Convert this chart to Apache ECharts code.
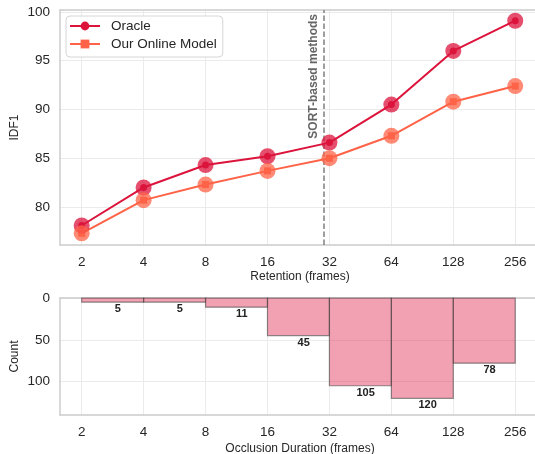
<!DOCTYPE html>
<html>
<head>
<meta charset="utf-8">
<script src="https://cdn.jsdelivr.net/npm/echarts@6/dist/echarts.min.js"></script>
<style>
html,body{margin:0;padding:0;background:#fff;}
#chart{width:535px;height:454px;}
</style>
</head>
<body>
<div id="chart"></div>
<script>
// ---- data ----
const retention = [2, 4, 8, 16, 32, 64, 128, 256];
const oracleIDF1 = [78.1, 82.0, 84.3, 85.2, 86.6, 90.5, 96.0, 99.1];
const onlineIDF1 = [77.3, 80.7, 82.3, 83.7, 85.0, 87.3, 90.8, 92.4];
const binEdges = [2, 4, 8, 16, 32, 64, 128, 256];
const occlusionCounts = [5, 5, 11, 45, 105, 120, 78];
const xTickValues = [2, 4, 8, 16, 32, 64, 128, 256];
const yTicksTop = [80, 85, 90, 95, 100];
const yTicksBottom = [0, 50, 100];
const sortLine = 30;

const FONT = 'Liberation Sans, Arial, sans-serif';
const CRIMSON = '#DC143C';
const TOMATO = '#FF6347';
const GRIDC = '#ebebeb';
const SPINE = '#cccccc';
const TXT = '#262626';

// x axis is a base-2 logarithmic scale: positions are log2 of the values
const lg = v => Math.log2(v);
const oracleData = retention.map((r, i) => [lg(r), oracleIDF1[i]]);
const onlineData = retention.map((r, i) => [lg(r), onlineIDF1[i]]);
const histData = occlusionCounts.map((c, i) => [lg(binEdges[i]), lg(binEdges[i + 1]), c, lg((binEdges[i] + binEdges[i + 1]) / 2)]);
const xTickPos = xTickValues.map(lg);
const X_MIN = 0.65, X_MAX = 8.4;

function xAxisCfg(gridIndex, name, gap) {
  return {
    type: 'value', gridIndex: gridIndex, position: 'bottom',
    min: X_MIN, max: X_MAX,
    name: name, nameLocation: 'middle', nameGap: gap, nameMoveOverlap: false,
    nameTextStyle: { color: TXT, fontSize: 12, fontFamily: FONT },
    axisLine: { show: true, onZero: false, lineStyle: { color: SPINE, width: 1.5 } },
    axisTick: { show: false, customValues: xTickPos },
    axisLabel: { customValues: xTickPos, color: TXT, fontSize: 13.5, fontFamily: FONT, margin: 10,
      formatter: v => { const k = xTickPos.indexOf(v); return String(k >= 0 ? xTickValues[k] : Math.round(Math.pow(2, v))); } },
    splitLine: { show: true, lineStyle: { color: GRIDC, width: 1 } }
  };
}
function topSpineCfg(gridIndex) {
  return {
    type: 'value', gridIndex: gridIndex, position: 'top', min: X_MIN, max: X_MAX,
    axisLine: { show: true, onZero: false, lineStyle: { color: SPINE, width: 1.5 } },
    axisTick: { show: false }, axisLabel: { show: false }, splitLine: { show: false }
  };
}
function yAxisCfg(gridIndex, name, min, max, ticks, inverse) {
  return {
    type: 'value', gridIndex: gridIndex, min: min, max: max, inverse: inverse, position: 'left',
    name: name, nameLocation: 'middle', nameGap: 39, nameMoveOverlap: false,
    nameTextStyle: { color: TXT, fontSize: 12, fontFamily: FONT },
    axisLine: { show: true, onZero: false, lineStyle: { color: SPINE, width: 1.5 } },
    axisTick: { show: false, customValues: ticks },
    axisLabel: { customValues: ticks, color: TXT, fontSize: 13.5, fontFamily: FONT, margin: 10 },
    splitLine: { show: true, lineStyle: { color: GRIDC, width: 1 } }
  };
}

const chart = echarts.init(document.getElementById('chart'), null, { renderer: 'canvas' });
chart.setOption({
  animation: false,
  backgroundColor: '#fff',
  grid: [
    { left: 60, top: 10, width: 480, height: 235, show: false, outerBoundsMode: 'none', containLabel: false },
    { left: 60, top: 298, width: 480, height: 117, show: false, outerBoundsMode: 'none', containLabel: false }
  ],
  legend: {
    left: 66, top: 16, orient: 'vertical',
    data: ['Oracle', 'Our Online Model'],
    backgroundColor: '#fff', borderColor: '#d6d6d6', borderWidth: 1, borderRadius: 4,
    padding: [3, 6, 6, 3],
    itemWidth: 30, itemHeight: 11, itemGap: 4,
    textStyle: { color: TXT, fontSize: 13.5, fontFamily: FONT, lineHeight: 14, padding: [0, 0, 0, 6] }
  },
  xAxis: [
    xAxisCfg(0, 'Retention (frames)', 26),
    xAxisCfg(1, 'Occlusion Duration (frames)', 28),
    topSpineCfg(0),
    topSpineCfg(1)
  ],
  yAxis: [
    yAxisCfg(0, 'IDF1', 76.1, 100.2, yTicksTop, false),
    yAxisCfg(1, 'Count', 0, 140, yTicksBottom, true)
  ],
  series: [
    {
      name: 'Oracle', type: 'line', xAxisIndex: 0, yAxisIndex: 0, z: 2,
      data: oracleData, symbol: 'circle', symbolSize: 7,
      lineStyle: { color: CRIMSON, width: 2 }, itemStyle: { color: CRIMSON },
      markLine: {
        silent: true, symbol: 'none', z: 1,
        lineStyle: { color: '#808080', width: 1.5, type: [5.5, 2.5] },
        label: { show: true, position: 'insideEndTop', formatter: 'SORT-based methods',
          color: '#666666', fontSize: 12, fontWeight: 'bold', fontFamily: FONT, distance: 4 },
        data: [{ xAxis: lg(sortLine) }]
      }
    },
    {
      name: 'Our Online Model', type: 'line', xAxisIndex: 0, yAxisIndex: 0, z: 2,
      data: onlineData, symbol: 'rect', symbolSize: 7,
      lineStyle: { color: TOMATO, width: 2 }, itemStyle: { color: TOMATO }
    },
    {
      name: 'oracleHalo', type: 'scatter', xAxisIndex: 0, yAxisIndex: 0, z: 3,
      data: oracleData, symbol: 'circle', symbolSize: 16,
      itemStyle: { color: CRIMSON, opacity: 0.75 }
    },
    {
      name: 'onlineHalo', type: 'scatter', xAxisIndex: 0, yAxisIndex: 0, z: 3,
      data: onlineData, symbol: 'circle', symbolSize: 16,
      itemStyle: { color: TOMATO, opacity: 0.75 }
    },
    {
      name: 'hist', type: 'custom', xAxisIndex: 1, yAxisIndex: 1,
      data: histData,
      encode: { x: [0, 1], y: 2 },
      renderItem: function (params, api) {
        const lo = api.value(0), hi = api.value(1), c = api.value(2), mid = api.value(3);
        const p0 = api.coord([lo, 0]);
        const p1 = api.coord([hi, c]);
        const pm = api.coord([mid, c]);
        return {
          type: 'group',
          children: [
            { type: 'rect',
              shape: { x: p0[0], y: p0[1], width: p1[0] - p0[0], height: p1[1] - p0[1] },
              style: { fill: 'rgba(220,20,60,0.4)', stroke: 'rgba(70,70,70,0.6)', lineWidth: 1.2 } },
            { type: 'text',
              style: { text: String(c), x: pm[0], y: pm[1] + 7, align: 'center', verticalAlign: 'middle',
                font: 'bold 11px ' + FONT, fill: '#222222' } }
          ]
        };
      }
    }
  ]
});
</script>
</body>
</html>
